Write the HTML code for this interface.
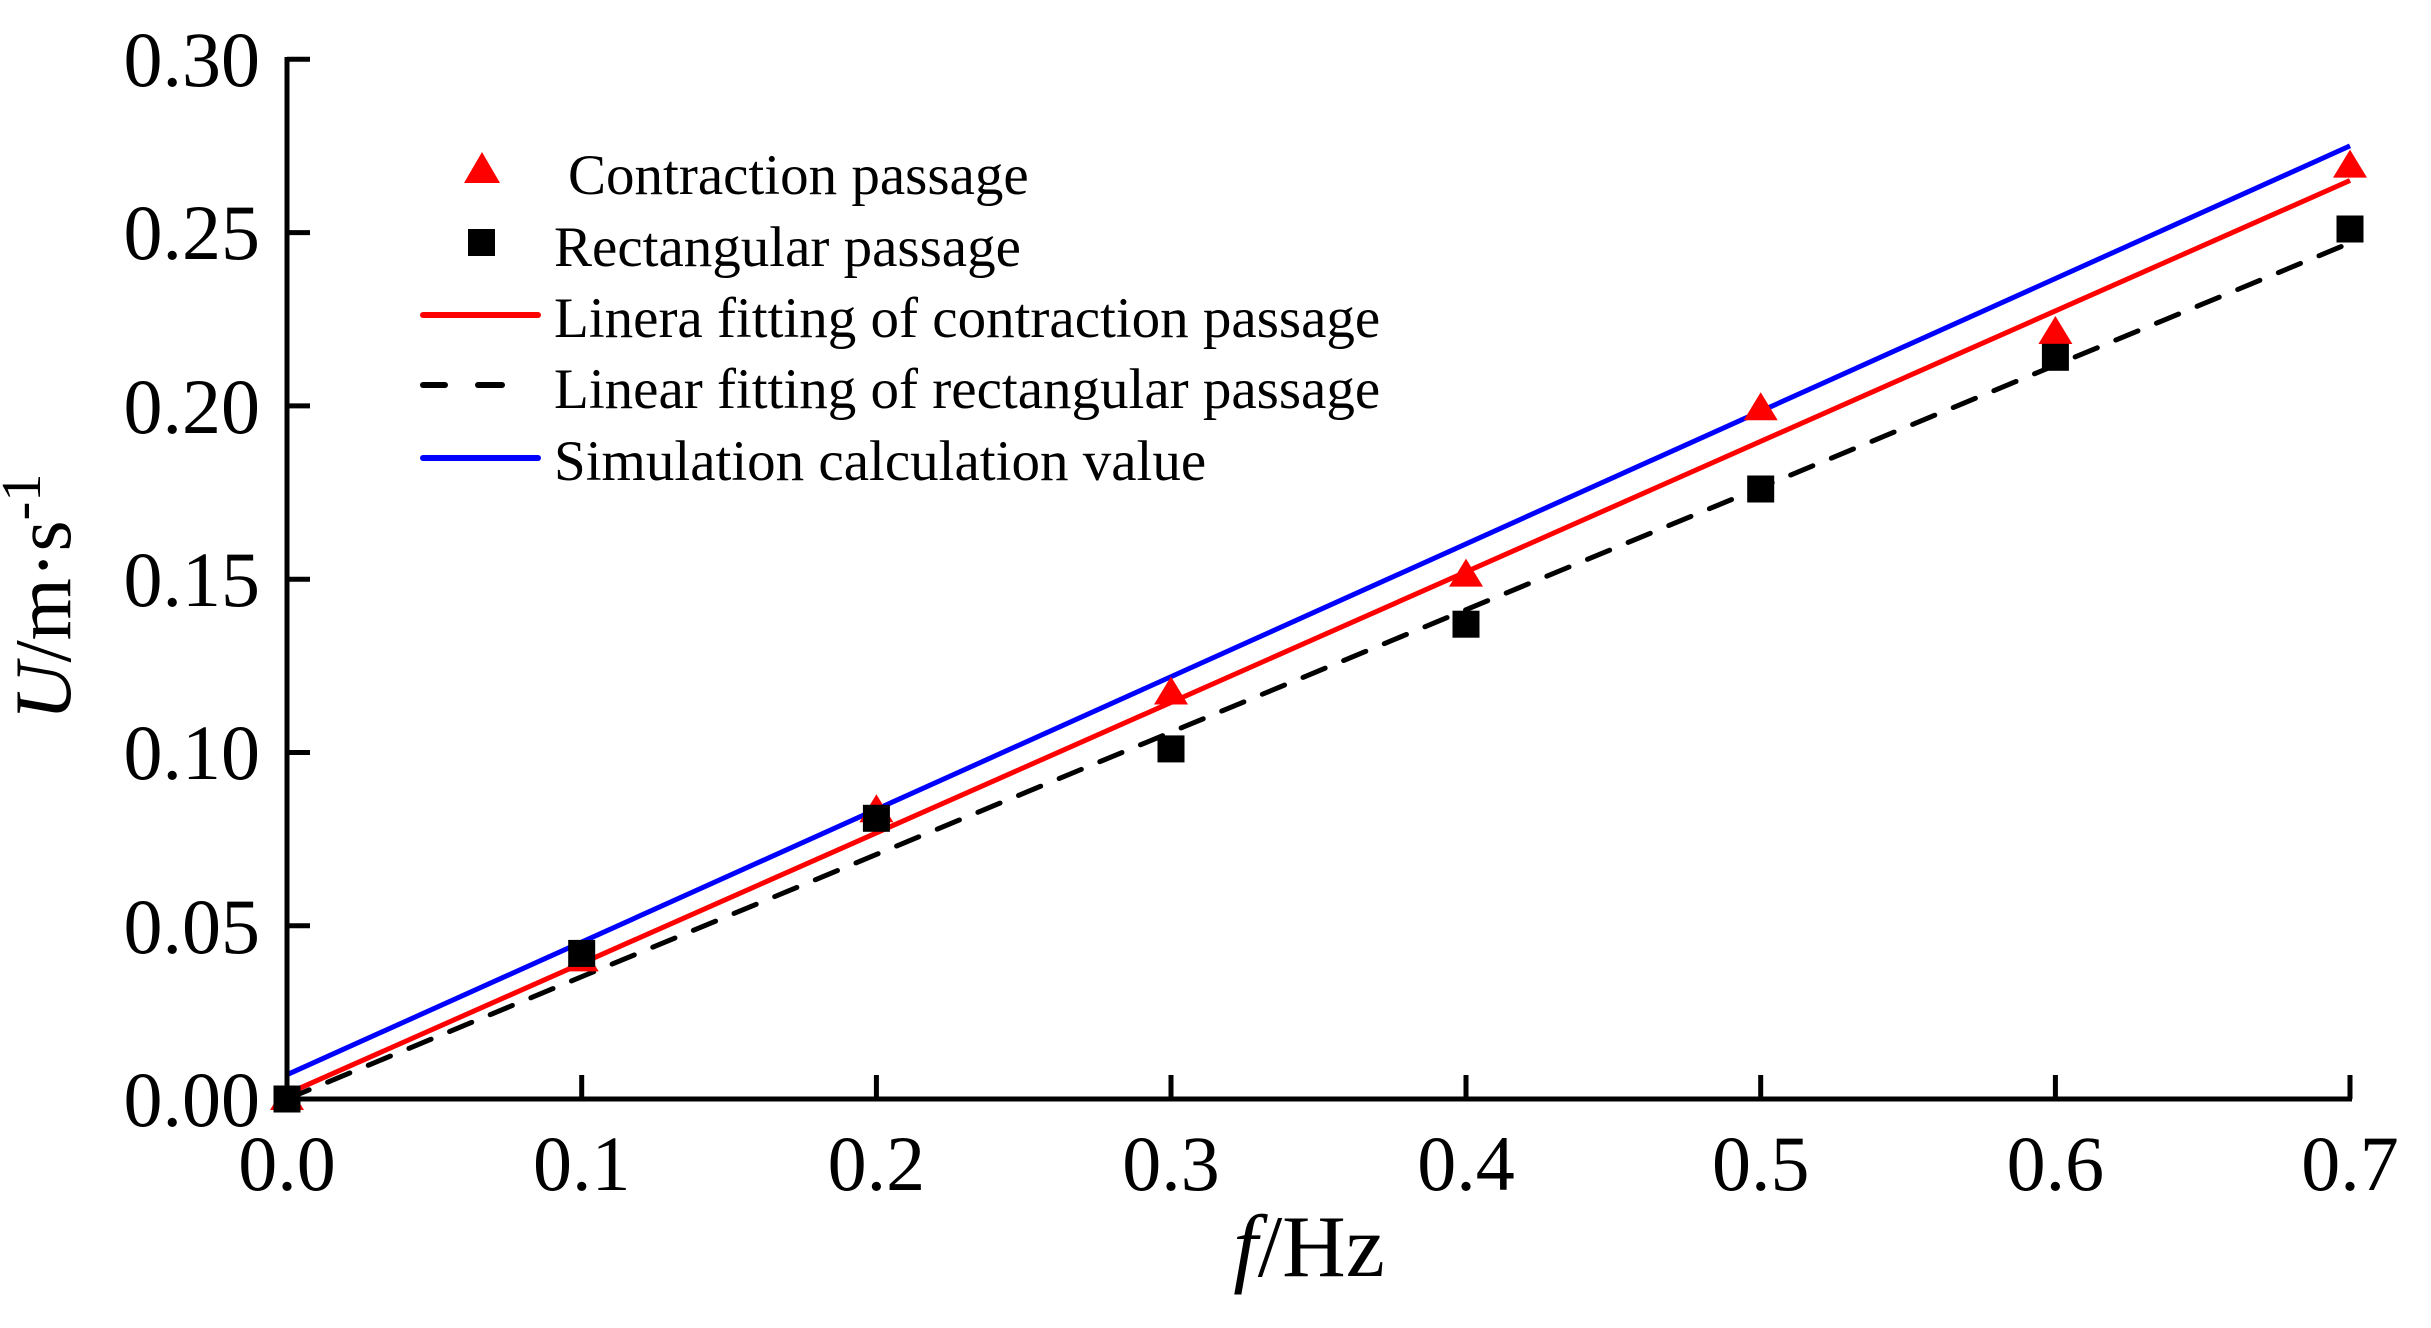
<!DOCTYPE html>
<html><head><meta charset="utf-8"><style>html,body{margin:0;padding:0;background:#fff}</style></head>
<body>
<svg width="2431" height="1323" viewBox="0 0 2431 1323" xmlns="http://www.w3.org/2000/svg" font-family="Liberation Serif, serif">
<rect width="2431" height="1323" fill="#fff"/>
<g stroke-width="5" fill="none">
<line x1="287" y1="1074.7" x2="2350" y2="145.9" stroke="#0000ff"/>
<line x1="287" y1="1093.8" x2="2350" y2="180.5" stroke="#ff0000"/>
<line x1="287" y1="1099" x2="2350" y2="242.9" stroke="#000" stroke-dasharray="24,20" stroke-linecap="round"/>
</g>
<g fill="#ff0000">
<polygon points="287,1082 270,1110 304,1110"/>
<polygon points="581.7,943.4 564.7,971.4 598.7,971.4"/>
<polygon points="876.4,794.3 859.4,822.3 893.4,822.3"/>
<polygon points="1171,676.5 1154,704.5 1188,704.5"/>
<polygon points="1466,558.6 1449,586.6 1483,586.6"/>
<polygon points="1760.7,392.3 1743.7,420.3 1777.7,420.3"/>
<polygon points="2055.4,316 2038.4,344 2072.4,344"/>
<polygon points="2350,149.6 2333,177.6 2367,177.6"/>
</g>
<g fill="#000">
<rect x="273.5" y="1085.5" width="27" height="27"/>
<rect x="568.2" y="939.9" width="27" height="27"/>
<rect x="862.9" y="804.8" width="27" height="27"/>
<rect x="1157.5" y="735.4" width="27" height="27"/>
<rect x="1452.5" y="610.7" width="27" height="27"/>
<rect x="1747.2" y="475.5" width="27" height="27"/>
<rect x="2041.9" y="343.8" width="27" height="27"/>
<rect x="2336.5" y="215.5" width="27" height="27"/>
</g>
<g stroke="#000" stroke-width="5" fill="none">
<line x1="287" y1="57" x2="287" y2="1101.5"/>
<line x1="285" y1="1099" x2="2352" y2="1099"/>
<line x1="287" y1="59.3" x2="310" y2="59.3"/>
<line x1="287" y1="232.6" x2="310" y2="232.6"/>
<line x1="287" y1="405.9" x2="310" y2="405.9"/>
<line x1="287" y1="579.2" x2="310" y2="579.2"/>
<line x1="287" y1="752.5" x2="310" y2="752.5"/>
<line x1="287" y1="925.8" x2="310" y2="925.8"/>
<line x1="581.7" y1="1099" x2="581.7" y2="1075"/>
<line x1="876.4" y1="1099" x2="876.4" y2="1075"/>
<line x1="1171" y1="1099" x2="1171" y2="1075"/>
<line x1="1466" y1="1099" x2="1466" y2="1075"/>
<line x1="1760.7" y1="1099" x2="1760.7" y2="1075"/>
<line x1="2055.4" y1="1099" x2="2055.4" y2="1075"/>
<line x1="2350" y1="1099" x2="2350" y2="1075"/>
</g>
<g font-size="78" text-anchor="end" fill="#000">
<text x="260" y="86">0.30</text>
<text x="260" y="259">0.25</text>
<text x="260" y="433">0.20</text>
<text x="260" y="606">0.15</text>
<text x="260" y="779">0.10</text>
<text x="260" y="953">0.05</text>
<text x="260" y="1126">0.00</text>
</g>
<g font-size="78" text-anchor="middle" fill="#000">
<text x="287" y="1190">0.0</text>
<text x="581.7" y="1190">0.1</text>
<text x="876.4" y="1190">0.2</text>
<text x="1171" y="1190">0.3</text>
<text x="1466" y="1190">0.4</text>
<text x="1760.7" y="1190">0.5</text>
<text x="2055.4" y="1190">0.6</text>
<text x="2350" y="1190">0.7</text>
</g>
<text x="1309" y="1276" font-size="88" text-anchor="middle"><tspan font-style="italic">f</tspan>/Hz</text>
<text transform="translate(70,597) rotate(-90)" font-size="80" text-anchor="middle"><tspan font-style="italic">U</tspan>/m·s<tspan dy="-30" font-size="56">-1</tspan></text>
<polygon points="482,152 464,183 500,183" fill="#ff0000"/>
<rect x="468" y="229" width="27" height="27" fill="#000"/>
<line x1="423" y1="315" x2="538" y2="315" stroke="#ff0000" stroke-width="6" stroke-linecap="round"/>
<line x1="423" y1="385" x2="445" y2="385" stroke="#000" stroke-width="6" stroke-linecap="round"/>
<line x1="478" y1="385" x2="502" y2="385" stroke="#000" stroke-width="6" stroke-linecap="round"/>
<line x1="423" y1="458" x2="538" y2="458" stroke="#0000ff" stroke-width="6" stroke-linecap="round"/>
<g font-size="57" fill="#000">
<text x="568" y="194">Contraction passage</text>
<text x="554" y="266">Rectangular passage</text>
<text x="554" y="337">Linera fitting of contraction passage</text>
<text x="554" y="408">Linear fitting of rectangular passage</text>
<text x="554" y="480">Simulation calculation value</text>
</g>
</svg>
</body></html>
